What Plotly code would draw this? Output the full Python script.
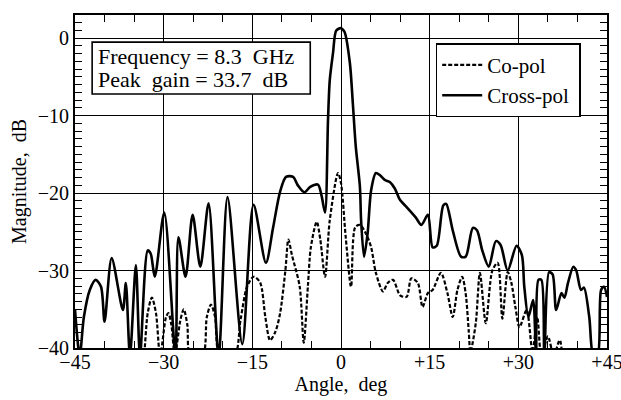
import plotly.graph_objects as go

# Cross-pol (solid) curve
cross_angle = [-45, -44.2, -43.5, -42.5, -41.5, -40.6, -40.0, -38.8, -36.9, -36.4, -35.7, -34.7, -34.0,
               -32.7, -32.2, -31.5, -29.9, -28.0, -27.5, -26.3, -25.1, -23.8, -22.4, -20.7, -19.2,
               -16.7, -14.8, -12.7, -11.5, -10.3, -9.3, -8.1, -7.3, -6.2, -5.2, -3.9, -3.3, -2.7,
               -2.2, -1.9, -1.35, -0.8, 0.0, 0.6, 1.5, 2.0, 2.5, 3.2, 3.4, 3.9, 4.5, 5.1, 5.9, 6.6,
               7.4, 8.3, 9.1, 10.0, 11.1, 12.6, 13.6, 14.7, 15.5, 16.2, 17.3, 17.8, 18.9, 20.3,
               21.1, 22.3, 23.0, 23.9, 25.0, 26.2, 27.0, 28.2, 29.7, 30.6, 31.0, 31.7, 32.5, 33.0,
               33.4, 33.9, 34.4, 35.2, 35.8, 36.4, 37.3, 37.8, 38.4, 39.3, 39.8, 40.6, 41.1, 42.0,
               42.7, 43.4, 44.0, 44.5, 45.0]
cross_db = [-35, -41, -36, -32.5, -31.2, -32.1, -36.6, -28.4, -35.1, -31.6, -41, -29.3, -41,
            -27.4, -27.8, -30.8, -22.5, -41, -25.7, -30.8, -22.8, -29.5, -21.3, -41, -20.5,
            -39.5, -21.5, -29.0, -24.5, -19.8, -17.9, -17.9, -19.0, -19.9, -19.2, -18.9, -20.3, -22.5,
            -10.6, -5.4, -1.9, 1.0, 1.3, 0.8, -3.2, -8.4, -14.0, -19.2, -23.5, -28.2, -25.2, -19.6,
            -17.4, -17.7, -18.3, -18.6, -19.4, -20.9, -21.8, -23.1, -24.1, -22.8, -27.0, -26.8,
            -21.6, -21.4, -24.8, -28.2, -28.2, -24.5, -24.8, -27.4, -29.5, -26.2, -26.7, -30.0,
            -26.8, -28.0, -32.0, -36.0, -33.8, -41, -31.2, -31.2, -41, -30.2, -30.5, -35.1, -32.9,
            -33.5, -31.6, -29.5, -30.0, -32.5, -32.2, -36.0, -41, -41, -32.5, -32.1, -33.4]

# Co-pol (dashed) curve
co_angle = [-45, -34.0, -33.3, -32.7, -32.0, -31.3, -30.6, -29.6, -29.2, -28.7, -28.1, -27.2, -26.6,
            -26.0, -25.5, -23.4, -22.7, -22.0, -21.3, -20.5, -18.0, -17.0, -15.9, -14.8, -13.7,
            -12.8, -12.0, -11.1, -10.3, -9.4, -8.9, -8.3, -7.0, -6.3, -5.6, -5.1, -4.1, -3.5,
            -2.7, -1.9, -0.5, 0.0, 0.8, 1.7, 2.4, 3.2, 4.2, 5.1, 5.9, 7.1, 7.9, 8.8, 10.0, 11.1,
            11.9, 13.0, 13.8, 14.7, 15.5, 16.9, 18.0, 18.9, 19.7, 20.5, 21.1, 21.6, 21.9, 22.8,
            23.5, 24.5, 25.6, 26.5, 27.3, 28.2, 28.8, 29.5, 30.2, 31.4, 32.4, 33.2, 33.9, 35.0,
            36.0, 37.0, 38.0, 45]
co_db = [-46, -46, -41, -35.5, -33.5, -35.5, -41, -36.0, -35.5, -37.0, -41, -36.5, -35.0,
         -37.0, -41, -41, -36.0, -34.4, -36.0, -41, -41, -36.4, -32.1, -30.8, -31.5,
         -36.0, -39.0, -37.9, -35.5, -29.9, -26.0, -28.0, -32.0, -39.3, -32.0, -27.0, -23.7, -26.0,
         -30.8, -23.5, -17.4, -18.7, -25.7, -32.1, -24.4, -24.1, -25.2, -27.0, -30.3, -32.7,
         -31.6, -31.2, -33.2, -33.4, -31.0, -31.6, -34.7, -32.9, -32.5, -30.3, -32.9, -36.0,
         -32.5, -30.8, -33.0, -37.7, -40.5, -36.8, -30.3, -36.8, -30.0, -29.0, -36.2, -30.2,
         -31.5, -34.7, -37.3, -35.1, -40.5, -36.0, -41, -38.5, -41, -39.0, -42, -45]

x_tickvals = [-45, -30, -15, 0, 15, 30, 45]
x_ticktext = ["\u221245", "\u221230", "\u221215", "0", "+15", "+30", "+45"]
y_tickvals = [0, -10, -20, -30, -40]
y_ticktext = ["0", "\u221210", "\u221220", "\u221230", "\u221240"]

info_lines = ["Frequency\u00a0=\u00a08.3\u00a0\u00a0GHz", "Peak\u00a0\u00a0gain\u00a0=\u00a033.7\u00a0\u00a0dB"]

FONT = "Liberation Serif"
NB = "\u00a0"

fig = go.Figure()
fig.add_trace(go.Scatter(x=co_angle, y=co_db, mode="lines", name="Co-pol" + NB,
                         line=dict(color="black", width=2.2, dash="4px,2px",
                                   shape="spline", smoothing=0.8)))
fig.add_trace(go.Scatter(x=cross_angle, y=cross_db, mode="lines", name="Cross-pol" + NB,
                         line=dict(color="black", width=2.6, shape="spline", smoothing=0.8)))

axis_common = dict(
    showline=True, linecolor="black", linewidth=1.8, mirror="ticks",
    ticks="inside", ticklen=7, tickwidth=1.2, tickcolor="black",
    showgrid=True, gridcolor="black", gridwidth=1.1, zeroline=False,
    tickfont=dict(family=FONT, size=20, color="black"),
    automargin=False, ticklabeloverflow="allow",
)

fig.update_xaxes(range=[-45, 45], tickvals=x_tickvals, ticktext=x_ticktext,
                 minor=dict(dtick=5, ticks="inside", ticklen=7, tickwidth=1.2, tickcolor="black", showgrid=False),
                 title=dict(text="Angle," + NB + NB + "deg", font=dict(family=FONT, size=20, color="black"), standoff=0),
                 ticklabelstandoff=-5,
                 **axis_common)
fig.update_yaxes(range=[-40, 3], tickvals=y_tickvals, ticktext=y_ticktext,
                 minor=dict(dtick=1, ticks="inside", ticklen=7, tickwidth=1.2, tickcolor="black", showgrid=False),
                 title=dict(text="Magnitude," + NB + NB + "dB", font=dict(family=FONT, size=20, color="black"), standoff=6),
                 **axis_common)

# info box
fig.add_shape(type="rect", xref="x", yref="y", x0=-42.1, x1=-5.2, y0=-0.5, y1=-7.2,
              line=dict(color="black", width=1.6), fillcolor="white", layer="above")
fig.add_annotation(x=-41.5, y=-2.4, xref="x", yref="y", xanchor="left", yanchor="middle",
                   text=info_lines[0], showarrow=False, font=dict(family=FONT, size=22, color="black"))
fig.add_annotation(x=-41.5, y=-5.3, xref="x", yref="y", xanchor="left", yanchor="middle",
                   text=info_lines[1], showarrow=False, font=dict(family=FONT, size=22, color="black"))

fig.update_layout(
    width=621, height=400,
    margin=dict(l=75, r=14, t=15, b=52),
    paper_bgcolor="white", plot_bgcolor="white",
    showlegend=True,
    legend=dict(x=0.678, y=0.915, xanchor="left", yanchor="top",
                bgcolor="white", bordercolor="black", borderwidth=1.5,
                font=dict(family=FONT, size=21, color="black"),
                tracegroupgap=0, itemwidth=40),
    font=dict(family=FONT, color="black"),
)

fig.write_html("out.html", post_script="document.body.style.margin='0px';",
               config={"displayModeBar": False})
